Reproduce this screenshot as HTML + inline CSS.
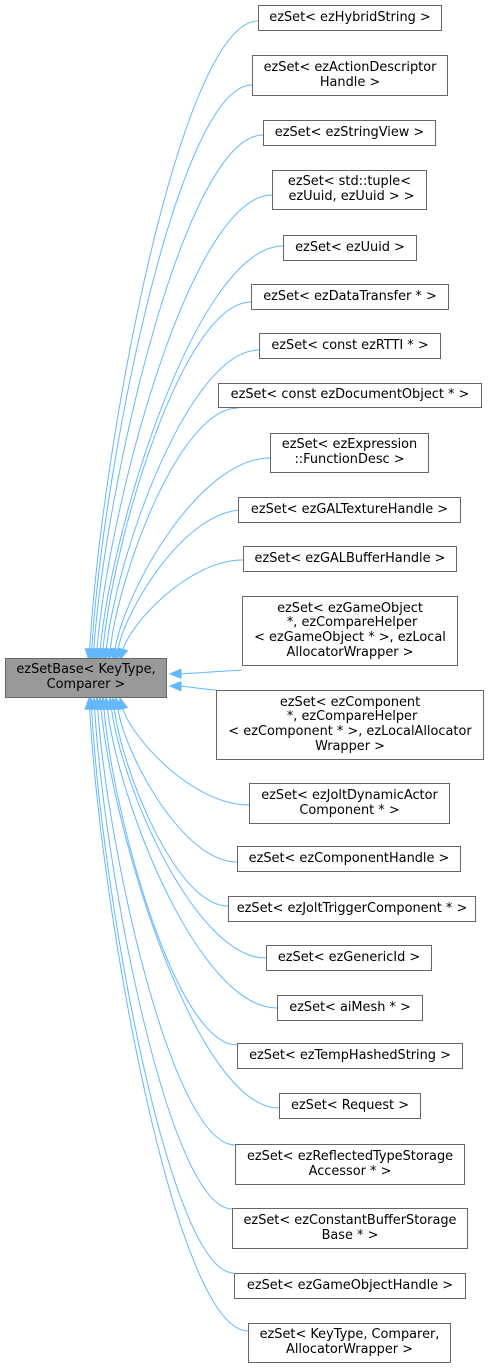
<!DOCTYPE html>
<html><head><meta charset="utf-8">
<style>
html,body{margin:0;padding:0;background:#fff;}
body{width:489px;height:1369px;position:relative;overflow:hidden;font-family:"DejaVu Sans","Liberation Sans",sans-serif;font-size:12.9px;color:#000;}
.b{position:absolute;box-sizing:border-box;border:1px solid #666;background:#fff;display:flex;align-items:center;justify-content:center;text-align:center;line-height:14.6px;white-space:pre;}
.base{background:#999;border-color:#666;}
svg{position:absolute;left:0;top:0;}
</style></head><body>
<svg id="s" width="489" height="1369"></svg>
<div class="b base" style="left:5px;top:658px;width:162px;height:40px;">ezSetBase&lt; KeyType,
Comparer &gt;</div>
<div class="b" style="left:258px;top:5px;width:184px;height:26px;">ezSet&lt; ezHybridString &gt;</div>
<div class="b" style="left:252px;top:55px;width:196px;height:41px;">ezSet&lt; ezActionDescriptor
Handle &gt;</div>
<div class="b" style="left:263px;top:120px;width:173px;height:26px;">ezSet&lt; ezStringView &gt;</div>
<div class="b" style="left:272px;top:170px;width:155px;height:40px;">ezSet&lt; std::tuple&lt;
 ezUuid, ezUuid &gt; &gt;</div>
<div class="b" style="left:283px;top:235px;width:134px;height:26px;">ezSet&lt; ezUuid &gt;</div>
<div class="b" style="left:251px;top:284px;width:198px;height:26px;">ezSet&lt; ezDataTransfer * &gt;</div>
<div class="b" style="left:259px;top:333px;width:182px;height:26px;">ezSet&lt; const ezRTTI * &gt;</div>
<div class="b" style="left:218px;top:383px;width:264px;height:25px;">ezSet&lt; const ezDocumentObject * &gt;</div>
<div class="b" style="left:270px;top:433px;width:159px;height:40px;">ezSet&lt; ezExpression
::FunctionDesc &gt;</div>
<div class="b" style="left:238px;top:497px;width:223px;height:26px;">ezSet&lt; ezGALTextureHandle &gt;</div>
<div class="b" style="left:243px;top:546px;width:214px;height:26px;">ezSet&lt; ezGALBufferHandle &gt;</div>
<div class="b" style="left:242px;top:596px;width:216px;height:70px;">ezSet&lt; ezGameObject
 *, ezCompareHelper
&lt; ezGameObject * &gt;, ezLocal
AllocatorWrapper &gt;</div>
<div class="b" style="left:216px;top:690px;width:268px;height:70px;">ezSet&lt; ezComponent
 *, ezCompareHelper
&lt; ezComponent * &gt;, ezLocalAllocator
Wrapper &gt;</div>
<div class="b" style="left:249px;top:783px;width:201px;height:41px;">ezSet&lt; ezJoltDynamicActor
Component * &gt;</div>
<div class="b" style="left:237px;top:846px;width:224px;height:26px;">ezSet&lt; ezComponentHandle &gt;</div>
<div class="b" style="left:228px;top:896px;width:248px;height:26px;">ezSet&lt; ezJoltTriggerComponent * &gt;</div>
<div class="b" style="left:266px;top:945px;width:166px;height:26px;">ezSet&lt; ezGenericId &gt;</div>
<div class="b" style="left:277px;top:995px;width:146px;height:26px;">ezSet&lt; aiMesh * &gt;</div>
<div class="b" style="left:237px;top:1043px;width:226px;height:26px;">ezSet&lt; ezTempHashedString &gt;</div>
<div class="b" style="left:279px;top:1093px;width:142px;height:26px;">ezSet&lt; Request &gt;</div>
<div class="b" style="left:235px;top:1144px;width:230px;height:41px;">ezSet&lt; ezReflectedTypeStorage
Accessor * &gt;</div>
<div class="b" style="left:232px;top:1208px;width:236px;height:41px;">ezSet&lt; ezConstantBufferStorage
Base * &gt;</div>
<div class="b" style="left:234px;top:1273px;width:232px;height:26px;">ezSet&lt; ezGameObjectHandle &gt;</div>
<div class="b" style="left:248px;top:1323px;width:203px;height:40px;">ezSet&lt; KeyType, Comparer,
AllocatorWrapper &gt;</div>
<script>
var s=document.getElementById('s');
var E=[
[258,21,89,660],[252,85,91,660],[263,135,93,660],[272,195,96,660],[283,246,99,660],
[251,302,102,660],[259,350,105,660],[238,408,109,660],[270,458,113,660],[243,510,116,660],[243,560,120,660],
[242,670,170,674,1],[216,690,170,686,1],
[249,805,120,698],[237,862,116,698],[228,906,113,698],[266,958,110,698],[277,1008,106,698],
[237,1045,103,698],[279,1108,100,698],[235,1145,97,698],[232,1209,94,698],[234,1273,91,698],[248,1331,89,698]];
var out='';
E.forEach(function(e){
var sx=e[0],sy=e[1],ex=e[2],ey=e[3],c1,c2;
if(e[4]){c1=[sx-20,sy+(ey-sy)*0.3];c2=[ex+20,ey+(sy-ey)*0.1];}
else{c1=[sx-0.45*(sx-ex),sy];c2=[ex+0.08*(sx-ex),ey+0.35*(sy-ey)];}
var dx=ex-c2[0],dy=ey-c2[1],L=Math.hypot(dx,dy);dx/=L;dy/=L;
var bx=ex-dx*11,by=ey-dy*11,px=-dy*4.5,py=dx*4.5;
out+='<path d="M'+sx+','+sy+' C'+c1[0]+','+c1[1]+' '+c2[0]+','+c2[1]+' '+bx+','+by+'" fill="none" stroke="#63b8ff" stroke-width="1"/>';
out+='<polygon points="'+ex+','+ey+' '+(bx+px)+','+(by+py)+' '+(bx-px)+','+(by-py)+'" fill="#63b8ff" stroke="#63b8ff"/>';
});
s.innerHTML=out;
</script>
</body></html>
